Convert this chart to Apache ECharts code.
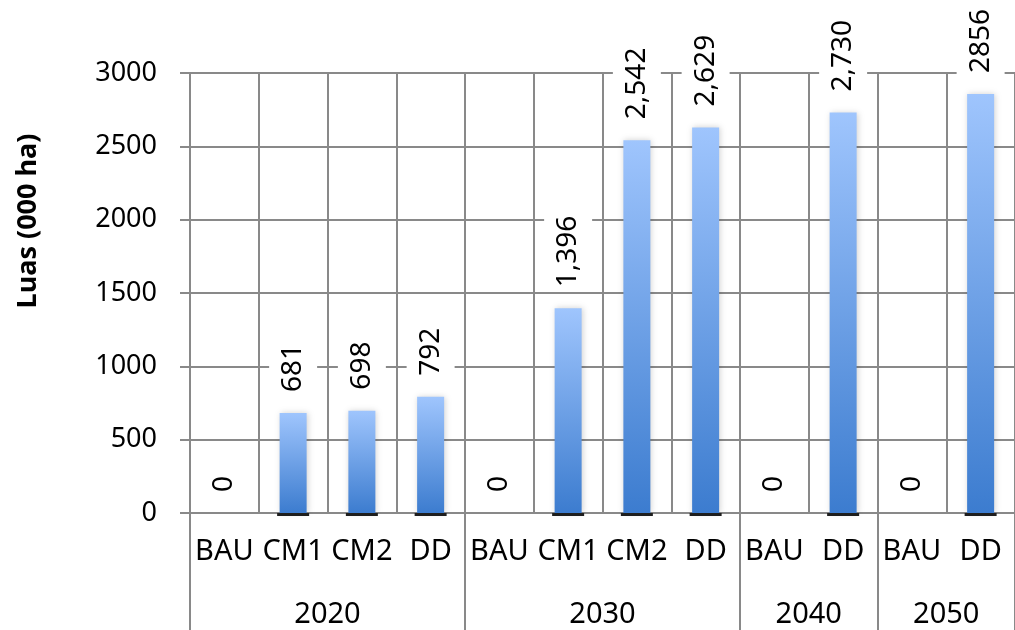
<!DOCTYPE html>
<html>
<head>
<meta charset="utf-8">
<script src="https://cdn.jsdelivr.net/npm/echarts@6/dist/echarts.min.js"></script>
<style>
  html, body { margin: 0; padding: 0; background: #fff; }
  #chart { width: 1015px; height: 630px; }
</style>
</head>
<body>
<div id="chart"></div>
<script>
// scenario under each year
const scenarios = ['BAU', 'CM1', 'CM2', 'DD', 'BAU', 'CM1', 'CM2', 'DD', 'BAU', 'DD', 'BAU', 'DD'];
const years = ['2020', '2030', '2040', '2050'];
const yearSizes = [4, 4, 2, 2];
// area (000 ha)
const luas = [0, 681, 698, 792, 0, 1396, 2542, 2629, 0, 2730, 0, 2856];
const luasLabels = ['0', '681', '698', '792', '0', '1,396', '2,542', '2,629', '0', '2,730', '0', '2856'];
const yTicks = [0, 500, 1000, 1500, 2000, 2500, 3000];

const gridColor = '#898989';
const font = 'Noto Sans';

// group boundaries and centres for the year row
let bounds = [0], centres = [];
yearSizes.forEach(function (n) {
  let start = bounds[bounds.length - 1];
  centres.push(start + n / 2);
  bounds.push(start + n);
});

let myChart = echarts.init(document.getElementById('chart'));
let option = {
  animation: false,
  grid: { left: 190, top: 73, width: 827, height: 440 },
  xAxis: [
    {
      type: 'category',
      data: scenarios,
      axisLine: { lineStyle: { color: gridColor, width: 2 } },
      axisTick: { length: 60, lineStyle: { color: gridColor, width: 2 } },
      axisLabel: { interval: 0, margin: 24, fontSize: 29, color: '#000', fontFamily: font },
      splitLine: { show: true, lineStyle: { color: gridColor, width: 2 } }
    },
    {
      type: 'value',
      position: 'bottom',
      min: 0,
      max: scenarios.length,
      axisLine: { show: false },
      splitLine: { show: false },
      axisTick: {
        show: true,
        customValues: bounds,
        length: 118,
        lineStyle: { color: gridColor, width: 2 }
      },
      axisLabel: {
        customValues: centres,
        margin: 87,
        fontSize: 29,
        color: '#000',
        fontFamily: font,
        formatter: function (v) {
          return years[centres.indexOf(v)];
        }
      }
    }
  ],
  yAxis: {
    type: 'value',
    min: yTicks[0],
    max: yTicks[yTicks.length - 1],
    interval: 500,
    name: 'Luas (000 ha)',
    nameLocation: 'middle',
    nameGap: 148,
    nameTextStyle: { fontSize: 27, fontWeight: 'bold', color: '#000', fontFamily: font, padding: [0, 0, 0, 144] },
    axisLine: { show: true, lineStyle: { color: gridColor, width: 2 } },
    axisTick: { show: true, length: 10, lineStyle: { color: gridColor, width: 2 } },
    axisLabel: {
      margin: 33, fontSize: 27, color: '#000', fontFamily: font,
      formatter: function (v) { return String(v); }
    },
    splitLine: { lineStyle: { color: gridColor, width: 2 } }
  },
  series: [
    {
      type: 'bar',
      data: luas,
      barWidth: 27,
      itemStyle: {
        color: new echarts.graphic.LinearGradient(0, 0, 0, 1, [
          { offset: 0, color: '#9fc5fd' },
          { offset: 1, color: '#3c7ccf' }
        ]),
        shadowBlur: 6,
        shadowOffsetX: 1,
        shadowColor: 'rgba(0,0,0,0.18)'
      },
      label: {
        show: true,
        position: 'top',
        rotate: 90,
        align: 'left',
        verticalAlign: 'middle',
        distance: 18,
        fontSize: 28,
        lineHeight: 30,
        color: '#000',
        fontFamily: font,
        backgroundColor: '#fff',
        padding: [9, 3, 9, 3],
        formatter: function (p) {
          return luasLabels[p.dataIndex];
        }
      },
      z: 3
    },
    {
      // dark base under each bar
      type: 'pictorialBar',
      data: luas.map(function (v) { return v > 0 ? v : '-'; }),
      symbol: 'rect',
      symbolSize: [32, 3],
      symbolPosition: 'start',
      symbolOffset: [0, 3],
      itemStyle: { color: '#1e1e1e' },
      silent: true,
      z: 5
    }
  ]
};
myChart.setOption(option);
</script>
</body>
</html>
